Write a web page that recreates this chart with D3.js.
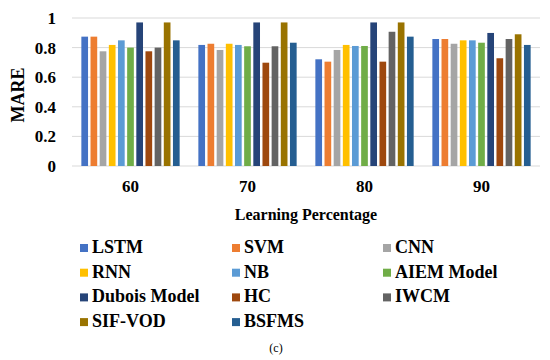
<!DOCTYPE html>
<html>
<head>
<meta charset="utf-8">
<script src="https://cdn.jsdelivr.net/npm/d3@7"></script>
<style>
  body { margin: 0; background: #fff; }
</style>
</head>
<body>
<svg id="chart" width="550" height="360"></svg>
<script>
// data
const percentages = ["60", "70", "80", "90"];
const methods = ["LSTM", "SVM", "CNN", "RNN", "NB", "AIEM Model",
                 "Dubois Model", "HC", "IWCM", "SIF-VOD", "BSFMS"];
const LSTM   = [0.874, 0.818, 0.721, 0.858];
const SVM    = [0.874, 0.826, 0.705, 0.858];
const CNN    = [0.775, 0.784, 0.784, 0.826];
const RNN    = [0.818, 0.826, 0.818, 0.849];
const NB     = [0.849, 0.818, 0.811, 0.849];
const AIEM   = [0.800, 0.809, 0.811, 0.833];
const Dubois = [0.970, 0.970, 0.970, 0.899];
const HC     = [0.775, 0.698, 0.705, 0.728];
const IWCM   = [0.800, 0.809, 0.907, 0.858];
const SIFVOD = [0.970, 0.970, 0.970, 0.890];
const BSFMS  = [0.849, 0.833, 0.874, 0.818];
const yTicks = [0, 0.2, 0.4, 0.6, 0.8, 1];

const series = [LSTM, SVM, CNN, RNN, NB, AIEM, Dubois, HC, IWCM, SIFVOD, BSFMS];
const colors = ["#4472C4", "#ED7D31", "#A5A5A5", "#FFC000", "#5B9BD5", "#70AD47",
                "#264478", "#9E480E", "#636363", "#997300", "#255E91"];

const rows = percentages.map((p, i) => {
  const r = { pct: p };
  methods.forEach((m, j) => r[m] = series[j][i]);
  return r;
});

const serif = "'Liberation Serif', 'Times New Roman', 'DejaVu Serif', serif";
const svg = d3.select("#chart");
const plotLeft = 72, plotRight = 540, plotTop = 18, plotBottom = 166;

const x0 = d3.scaleBand()
             .domain(percentages)
             .range([plotLeft, plotRight])
             .paddingInner(0.16)
             .paddingOuter(0.08);

const x1 = d3.scaleBand()
             .domain(methods)
             .range([0, x0.bandwidth()])
             .paddingInner(0.27);

const y = d3.scaleLinear()
            .domain([0, 1])
            .range([plotBottom, plotTop]);

const color = d3.scaleOrdinal().domain(methods).range(colors);

// gridlines
svg.append("g")
   .selectAll("line")
   .data(yTicks)
   .enter()
   .append("line")
   .attr("x1", plotLeft)
   .attr("x2", plotRight)
   .attr("y1", d => y(d))
   .attr("y2", d => y(d))
   .attr("stroke", "#d9d9d9")
   .attr("stroke-width", 1);

// y axis labels
const yAxis = d3.axisLeft(y).tickValues(yTicks).tickSize(0).tickPadding(16)
                .tickFormat(d => d === 0 || d === 1 ? d : d3.format(".1f")(d));
svg.append("g")
   .attr("transform", "translate(" + plotLeft + ",0)")
   .call(yAxis)
   .call(g => g.select(".domain").remove())
   .selectAll("text")
   .style("font-size", "17px")
   .style("font-weight", "bold")
   .style("font-family", serif)
   .attr("fill", "#000");

// bars
svg.append("g")
   .selectAll("g")
   .data(rows)
   .enter()
   .append("g")
   .attr("transform", d => "translate(" + x0(d.pct) + ",0)")
   .selectAll("rect")
   .data(d => methods.map(m => ({ key: m, value: d[m] })))
   .enter()
   .append("rect")
   .attr("x", d => x1(d.key))
   .attr("y", d => y(d.value))
   .attr("width", x1.bandwidth())
   .attr("height", d => y(0) - y(d.value))
   .attr("fill", d => color(d.key));

// x axis labels
const xAxis = d3.axisBottom(x0).tickSize(0).tickPadding(14);
svg.append("g")
   .attr("transform", "translate(0," + plotBottom + ")")
   .call(xAxis)
   .call(g => g.select(".domain").remove())
   .selectAll("text")
   .style("font-size", "17px")
   .style("font-weight", "bold")
   .style("font-family", serif)
   .attr("fill", "#000");

// axis titles
svg.append("text")
   .attr("x", (plotLeft + plotRight) / 2)
   .attr("y", 220)
   .attr("text-anchor", "middle")
   .style("font-size", "16px")
   .style("font-weight", "bold")
   .style("font-family", serif)
   .text("Learning Percentage");

svg.append("text")
   .attr("transform", "translate(24,95) rotate(-90)")
   .attr("text-anchor", "middle")
   .style("font-size", "18px")
   .style("font-weight", "bold")
   .style("font-family", serif)
   .text("MARE");

// legend
const colX = [80, 232, 383];
const legend = svg.append("g")
   .selectAll("g")
   .data(methods)
   .enter()
   .append("g")
   .attr("transform", (d, i) => "translate(" + colX[i % 3] + "," + (253 + Math.floor(i / 3) * 24.7) + ")");

legend.append("rect")
   .attr("x", 0)
   .attr("y", -9)
   .attr("width", 8)
   .attr("height", 8)
   .attr("fill", d => color(d));

legend.append("text")
   .attr("x", 12)
   .attr("y", 0)
   .style("font-size", "18px")
   .style("font-weight", "bold")
   .style("font-family", serif)
   .text(d => d);

svg.append("text")
   .attr("x", 276)
   .attr("y", 352)
   .attr("text-anchor", "middle")
   .style("font-size", "12px")
   .style("font-family", serif)
   .text("(c)");
</script>
</body>
</html>
